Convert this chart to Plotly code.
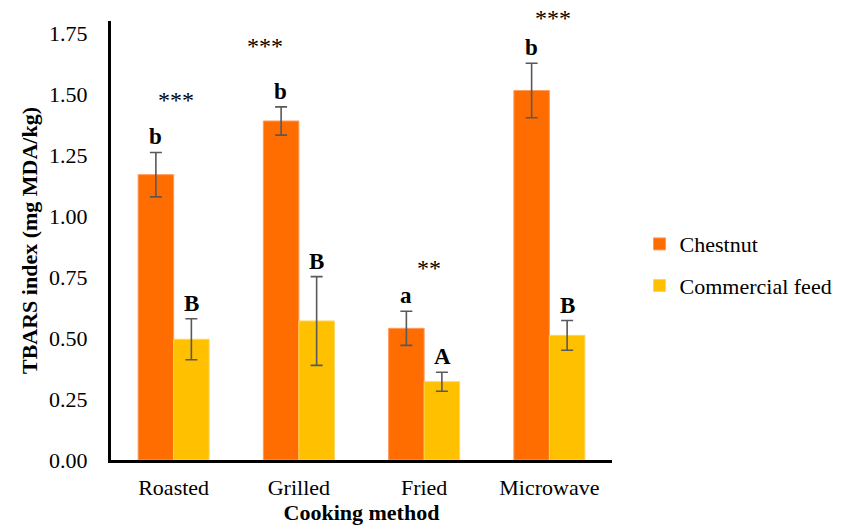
import plotly.graph_objects as go

categories = ["Roasted", "Grilled", "Fried", "Microwave"]
chestnut = [1.17, 1.39, 0.54, 1.515]
chestnut_err = [0.091, 0.058, 0.070, 0.112]
commercial = [0.495, 0.57, 0.321, 0.511]
commercial_err = [0.084, 0.182, 0.039, 0.061]
chestnut_letters = ["b", "b", "a", "b"]
commercial_letters = ["B", "B", "A", "B"]
stars = ["***", "***", "**", "***"]
star_y = [1.475, 1.697, 0.787, 1.75]
star_xshift = [2, -34, 5, 4]
star_yshift = [0, 0, 0, 15]

FONT = "Liberation Serif, Times New Roman, serif"
ERR_COLOR = "#595959"
FS = 22

fig = go.Figure()
fig.add_trace(go.Bar(
    x=categories, y=chestnut, name="Chestnut",
    marker=dict(color="#FF6D00", line=dict(color="#FF9A5A", width=1)),
    error_y=dict(type="data", array=chestnut_err, color=ERR_COLOR, thickness=1.6, width=6),
    legendgroup="a",
))
fig.add_trace(go.Bar(
    x=categories, y=commercial, name="Commercial feed",
    marker=dict(color="#FFC000", line=dict(color="#FFD45A", width=1)),
    error_y=dict(type="data", array=commercial_err, color=ERR_COLOR, thickness=1.6, width=6),
    legendgroup="b",
))

annotations = []
for i, c in enumerate(categories):
    annotations.append(dict(x=c, y=chestnut[i] + chestnut_err[i], text=chestnut_letters[i],
                            xshift=-18, yshift=1, yanchor="bottom", showarrow=False,
                            font=dict(family=FONT, size=23, color="black", weight="bold")))
    annotations.append(dict(x=c, y=commercial[i] + commercial_err[i], text=commercial_letters[i],
                            xshift=18, yshift=1, yanchor="bottom", showarrow=False,
                            font=dict(family=FONT, size=23, color="black", weight="bold")))
    annotations.append(dict(x=c, y=star_y[i], text=stars[i], xshift=star_xshift[i],
                            yshift=star_yshift[i], yanchor="middle", showarrow=False,
                            font=dict(family=FONT, size=24, color="black")))

fig.update_layout(
    width=842, height=522,
    margin=dict(l=103, r=231, t=13, b=70),
    paper_bgcolor="white", plot_bgcolor="white",
    font=dict(family=FONT, size=FS, color="black"),
    barmode="group", bargap=0.433, bargroupgap=0,
    showlegend=True,
    legend=dict(x=1.055, xanchor="left", y=0.444, yanchor="middle",
                font=dict(family=FONT, size=FS, color="black"),
                tracegroupgap=10, bgcolor="rgba(0,0,0,0)", borderwidth=0),
    annotations=annotations,
)
fig.update_xaxes(
    showline=True, linecolor="black", linewidth=3, ticks="",
    ticklabelstandoff=6, automargin=False,
    tickfont=dict(family=FONT, size=FS, color="black"),
    title=dict(text="<b>Cooking method</b>", font=dict(family=FONT, size=FS), standoff=4),
)
fig.update_yaxes(
    range=[0, 1.8], tickvals=[0, 0.25, 0.5, 0.75, 1.0, 1.25, 1.5, 1.75],
    tickformat=".2f", showgrid=False, zeroline=False,
    showline=True, linecolor="black", linewidth=3, ticks="",
    ticklabelstandoff=16, automargin=False,
    tickfont=dict(family=FONT, size=FS, color="black"),
    title=dict(text="<b>TBARS index (mg MDA/kg)</b>", font=dict(family=FONT, size=FS), standoff=6),
)

fig.write_html("out.html")
